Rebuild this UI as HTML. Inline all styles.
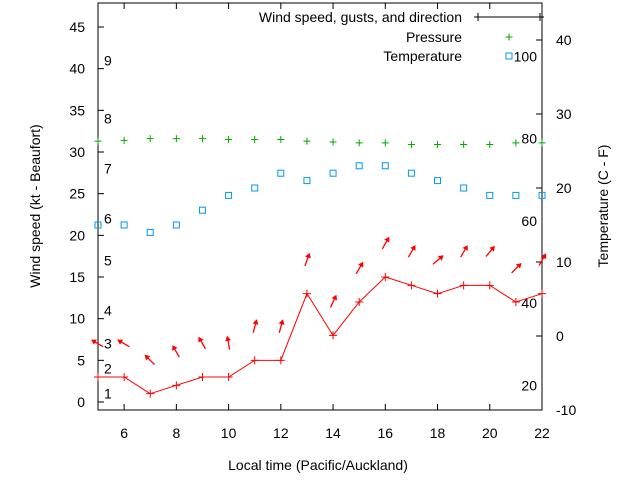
<!DOCTYPE html>
<html><head><meta charset="utf-8"><style>
body{margin:0;background:#fff}
svg{display:block;font-family:"Liberation Sans",sans-serif}
</style></head><body>
<svg id="chart" width="640" height="480"></svg>
<script>
const hours=[5,6,7,8,9,10,11,12,13,14,15,16,17,18,19,20,21,22];
const windSpeed=[3,3,1,2,3,3,5,5,13,8,12,15,14,13,14,14,12,13];
const gusts=[7,7,5,6,7,7,9,9,17,12,16,19,18,17,18,18,16,17];
const windDir=[300,300,315,330,330,350,15,15,20,25,30,30,30,50,30,40,45,30];
const pressure=[31.3,31.4,31.6,31.6,31.6,31.5,31.5,31.5,31.3,31.2,31.1,31.1,30.9,30.9,30.9,30.9,31.1,31.1];
const temperature=[15,15,14,15,17,19,20,22,21,22,23,23,22,21,20,19,19,19];
const xTicks=[6,8,10,12,14,16,18,20,22];
const yTicks=[0,5,10,15,20,25,30,35,40,45];
const y2Ticks=[-10,0,10,20,30,40];
const beaufort=[1,4,7,11,17,22,28,34,41];
const fahrenheit=[20,40,60,80,100];

const L=98,R=542,T=3,B=410;
const X=v=>L+(v-5)/(22-5)*(R-L);
const Y=v=>402-v*(375/45);
const Y2=v=>336-v*7.4;
const NS="http://www.w3.org/2000/svg";
const svg=document.getElementById('chart');
function mk(tag,attrs,parent){const e=document.createElementNS(NS,tag);for(const k in attrs)e.setAttribute(k,attrs[k]);(parent||svg).appendChild(e);return e;}
function txt(x,y,s,anchor,size){const t=mk('text',{x:x,y:y,'font-size':size||14,'text-anchor':anchor||'start',fill:'#000'});t.textContent=s;return t;}

const frame=mk('rect',{x:L,y:T,width:R-L,height:B-T,fill:'none',stroke:'#000','stroke-width':1});



xTicks.forEach(v=>{
  const g=mk('g',{});
  
  
  mk('line',{x1:X(v),x2:X(v),y1:B,y2:B-6,stroke:'#000'},g);
  mk('line',{x1:X(v),x2:X(v),y1:T,y2:T+6,stroke:'#000'},g);
  g.appendChild(txt(X(v),438,String(v),'middle'));
});
yTicks.forEach(v=>{
  const g=mk('g',{});
  
  
  mk('line',{x1:L,x2:L+6,y1:Y(v),y2:Y(v),stroke:'#000'},g);
  g.appendChild(txt(85,Y(v)+5,String(v),'end'));
});
y2Ticks.forEach(v=>{
  const g=mk('g',{});
  
  
  mk('line',{x1:R,x2:R-6,y1:Y2(v),y2:Y2(v),stroke:'#000'},g);
  g.appendChild(txt(556,Y2(v)+5,String(v),'start'));
});
beaufort.forEach((v,i)=>{
  const t=txt(104,Y(v)+5,String(i+1),'start');
  
  
});
fahrenheit.forEach(v=>{
  const t=txt(537,Y2((v-32)/1.8)+5,String(v),'end');
  
  
});

let t=txt(318,470,'Local time (Pacific/Auckland)','middle');


t=txt(0,0,'Wind speed (kt - Beaufort)','middle');
t.setAttribute('transform','translate(40,206) rotate(-90)');


t=txt(0,0,'Temperature (C - F)','middle');
t.setAttribute('transform','translate(608,206) rotate(-90)');



function plus(x,y,col,s,parent){mk('path',{d:`M${x-s},${y}H${x+s}M${x},${y-s}V${y+s}`,stroke:col,'stroke-width':1,fill:'none'},parent);}

// wind line
const wl=mk('polyline',{points:hours.map((h,i)=>X(h)+','+Y(windSpeed[i])).join(' '),fill:'none',stroke:'#f00','stroke-width':1});


hours.forEach((h,i)=>{
  const g=mk('g',{});
  
  
  plus(X(h),Y(windSpeed[i]),'#f00',4,g);
});
// gust arrows
hours.forEach((h,i)=>{
  const g=mk('g',{});
  
  
  const a=windDir[i]*Math.PI/180,dx=Math.sin(a),dy=-Math.cos(a);
  const cx=X(h),cy=Y(gusts[i]),len=6;
  const hx=cx+dx*len,hy=cy+dy*len;
  mk('line',{x1:cx-dx*len,y1:cy-dy*len,x2:hx,y2:hy,stroke:'#f00','stroke-width':1.3},g);
  const px=-dy,py=dx;
  mk('polygon',{points:`${hx+dx*2},${hy+dy*2} ${hx-dx*3+px*3},${hy-dy*3+py*3} ${hx-dx*3-px*3},${hy-dy*3-py*3}`,fill:'#f00'},g);
});
// pressure
hours.forEach((h,i)=>{
  const g=mk('g',{});
  
  
  plus(X(h),Y(pressure[i]),'#0a0',3.5,g);
});
// temperature
hours.forEach((h,i)=>{
  const r=mk('rect',{x:X(h)-3,y:Y2(temperature[i])-3,width:6,height:6,fill:'none',stroke:'#09e','stroke-width':1});
  
  
});
// legend
const lg=mk('g',{});


const e1=mk('g',{},lg);


e1.appendChild(txt(462,22,'Wind speed, gusts, and direction','end'));
mk('line',{x1:478,x2:540,y1:17,y2:17,stroke:'#000'},e1);
plus(478,17,'#000',4,e1);plus(540,17,'#000',4,e1);
const e2=mk('g',{},lg);


e2.appendChild(txt(462,42,'Pressure','end'));
plus(509,37,'#0a0',3.5,e2);
const e3=mk('g',{},lg);


e3.appendChild(txt(462,61,'Temperature','end'));
mk('rect',{x:506,y:53,width:6,height:6,fill:'none',stroke:'#09e'},e3);
</script>
</body></html>
